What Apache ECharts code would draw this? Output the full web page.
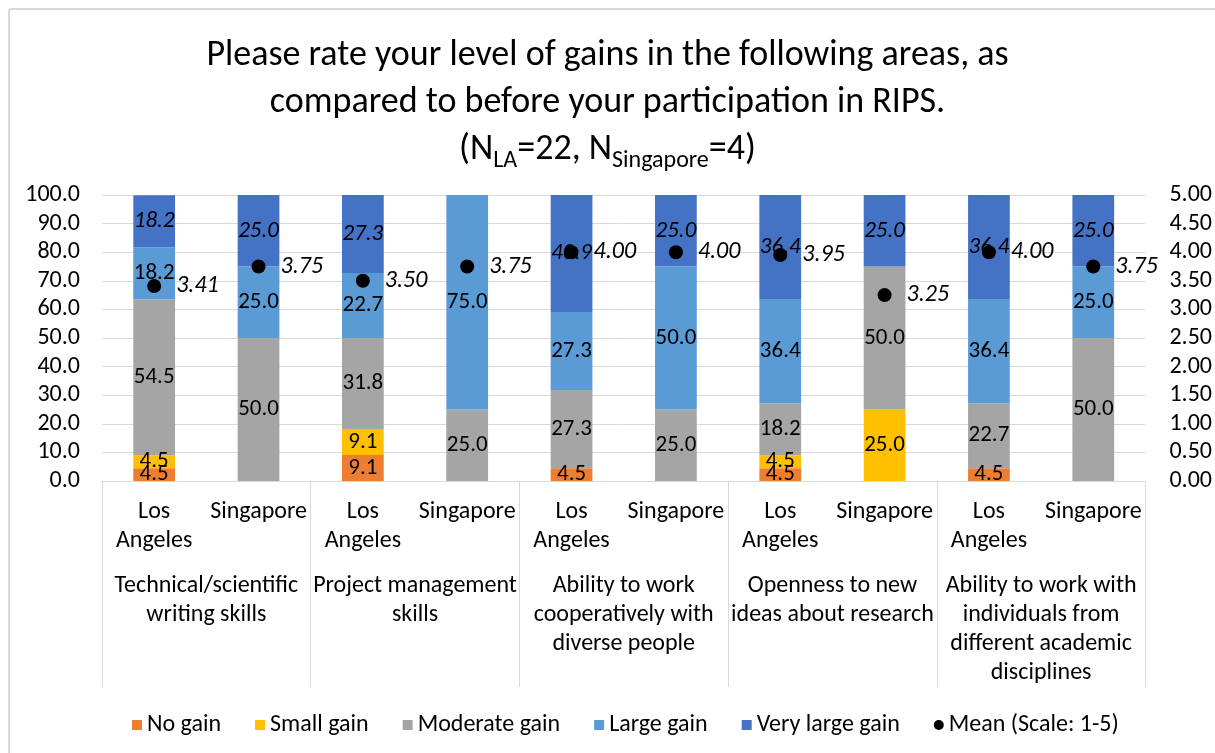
<!DOCTYPE html>
<html>
<head>
<meta charset="utf-8">
<title>RIPS gains</title>
<script src="https://cdn.jsdelivr.net/npm/echarts@6/dist/echarts.min.js"></script>
<style>
  html, body { margin: 0; padding: 0; background: #fff; }
  #chart { width: 1215px; height: 753px; }
</style>
</head>
<body>
<div id="chart"></div>
<script>
// Sites for each skill area (bottom row of the category axis)
const sites = ['Los\nAngeles', 'Singapore', 'Los\nAngeles', 'Singapore', 'Los\nAngeles', 'Singapore',
               'Los\nAngeles', 'Singapore', 'Los\nAngeles', 'Singapore'];
// Skill areas (outer row of the category axis)
const areas = [
  'Technical/scientific\nwriting skills',
  'Project management\nskills',
  'Ability to work\ncooperatively with\ndiverse people',
  'Openness to new\nideas about research',
  'Ability to work with\nindividuals from\ndifferent academic\ndisciplines'
];

// Percent of respondents per gain level, one value per site bar
const noGain        = [4.5, 0, 9.1, 0, 4.5, 0, 4.5, 0, 4.5, 0];
const smallGain     = [4.5, 0, 9.1, 0, 0, 0, 4.5, 25.0, 0, 0];
const moderateGain  = [54.5, 50.0, 31.8, 25.0, 27.3, 25.0, 18.2, 50.0, 22.7, 50.0];
const largeGain     = [18.2, 25.0, 22.7, 75.0, 27.3, 50.0, 36.4, 0, 36.4, 25.0];
const veryLargeGain = [18.2, 25.0, 27.3, 0, 40.9, 25.0, 36.4, 25.0, 36.4, 25.0];
// Mean rating on the 1-5 scale
const meanScore     = [3.41, 3.75, 3.50, 3.75, 4.00, 4.00, 3.95, 3.25, 4.00, 3.75];

const FONT = 'Carlito, Calibri, "Open Sans", sans-serif';
const GRID_COLOR = '#D9D9D9';
const FS = 24;        // axis and legend text
const FS_VALUE = 23;  // numbers inside the bars

function segment(name, values, color, italic) {
  return {
    name: name,
    type: 'bar',
    stack: 'gain',
    xAxisIndex: 0,
    yAxisIndex: 0,
    barCategoryGap: '60%',
    itemStyle: { color: color },
    label: {
      show: true,
      position: 'inside',
      color: '#000',
      fontFamily: FONT,
      fontSize: FS_VALUE,
      fontStyle: italic ? 'italic' : 'normal',
      formatter: p => (p.value ? p.value.toFixed(1) : '')
    },
    data: values
  };
}

const chart = echarts.init(document.getElementById('chart'), null, { renderer: 'canvas' });

chart.setOption({
  backgroundColor: '#fff',
  animation: false,
  textStyle: { fontFamily: FONT, color: '#000' },
  graphic: [{
    type: 'rect',
    shape: { x: 9, y: 9, width: 1400, height: 900, r: 3 },
    style: { fill: 'none', stroke: GRID_COLOR, lineWidth: 2 },
    silent: true
  }],
  title: {
    text: 'Please rate your level of gains in the following areas, as\n' +
          'compared to before your participation in RIPS.\n' +
          '(N{sub|LA}=22, N{sub|Singapore}=4)',
    left: 'center',
    top: 27,
    textStyle: {
      fontFamily: FONT,
      fontSize: 36,
      fontWeight: 'normal',
      color: '#000',
      lineHeight: 47,
      rich: {
        sub: {
          fontFamily: FONT,
          fontSize: 24,
          color: '#000',
          lineHeight: 24,
          verticalAlign: 'bottom'
        }
      }
    }
  },
  legend: {
    top: 708,
    left: 127,
    itemWidth: 10,
    itemHeight: 10,
    itemGap: 34,
    textStyle: { fontFamily: FONT, fontSize: FS, color: '#000' },
    data: [
      { name: 'No gain', icon: 'rect' },
      { name: 'Small gain', icon: 'rect' },
      { name: 'Moderate gain', icon: 'rect' },
      { name: 'Large gain', icon: 'rect' },
      { name: 'Very large gain', icon: 'rect' },
      { name: 'Mean (Scale: 1-5)', icon: 'circle' }
    ]
  },
  grid: { left: 102, right: 67, top: 195, bottom: 272, containLabel: false },
  xAxis: [
    {
      type: 'category',
      data: sites,
      position: 'bottom',
      axisLine: { show: true, lineStyle: { color: GRID_COLOR, width: 1 } },
      axisTick: { show: false },
      axisLabel: {
        interval: 0,
        margin: 16,
        fontFamily: FONT,
        fontSize: FS,
        lineHeight: 29,
        color: '#000'
      }
    },
    {
      type: 'category',
      data: areas,
      position: 'bottom',
      offset: 0,
      axisLine: { show: false },
      axisTick: { show: true, interval: 0, length: 206, lineStyle: { color: GRID_COLOR, width: 1 } },
      axisLabel: {
        interval: 0,
        margin: 90,
        fontFamily: FONT,
        fontSize: FS,
        lineHeight: 29,
        color: '#000'
      }
    }
  ],
  yAxis: [
    {
      type: 'value',
      min: 0,
      max: 100,
      interval: 10,
      axisLine: { show: false },
      axisTick: { show: false },
      splitLine: { show: true, lineStyle: { color: GRID_COLOR, width: 1 } },
      axisLabel: {
        margin: 22,
        fontFamily: FONT,
        fontSize: FS,
        color: '#000',
        formatter: v => v.toFixed(1)
      }
    },
    {
      type: 'value',
      min: 0,
      max: 5,
      interval: 0.5,
      position: 'right',
      axisLine: { show: false },
      axisTick: { show: false },
      splitLine: { show: false },
      axisLabel: {
        margin: 24,
        fontFamily: FONT,
        fontSize: FS,
        color: '#000',
        formatter: v => v.toFixed(2)
      }
    }
  ],
  series: [
    segment('No gain', noGain, '#ED7D31', false),
    segment('Small gain', smallGain, '#FFC000', false),
    segment('Moderate gain', moderateGain, '#A5A5A5', false),
    segment('Large gain', largeGain, '#5B9BD5', false),
    segment('Very large gain', veryLargeGain, '#4472C4', true),
    {
      name: 'Mean (Scale: 1-5)',
      type: 'scatter',
      xAxisIndex: 0,
      yAxisIndex: 1,
      symbol: 'circle',
      symbolSize: 14,
      itemStyle: { color: '#000', opacity: 1 },
      z: 5,
      label: {
        show: true,
        position: 'right',
        distance: 15,
        color: '#000',
        fontFamily: FONT,
        fontSize: FS,
        fontStyle: 'italic',
        formatter: p => p.value.toFixed(2)
      },
      data: meanScore
    }
  ]
});
</script>
</body>
</html>
